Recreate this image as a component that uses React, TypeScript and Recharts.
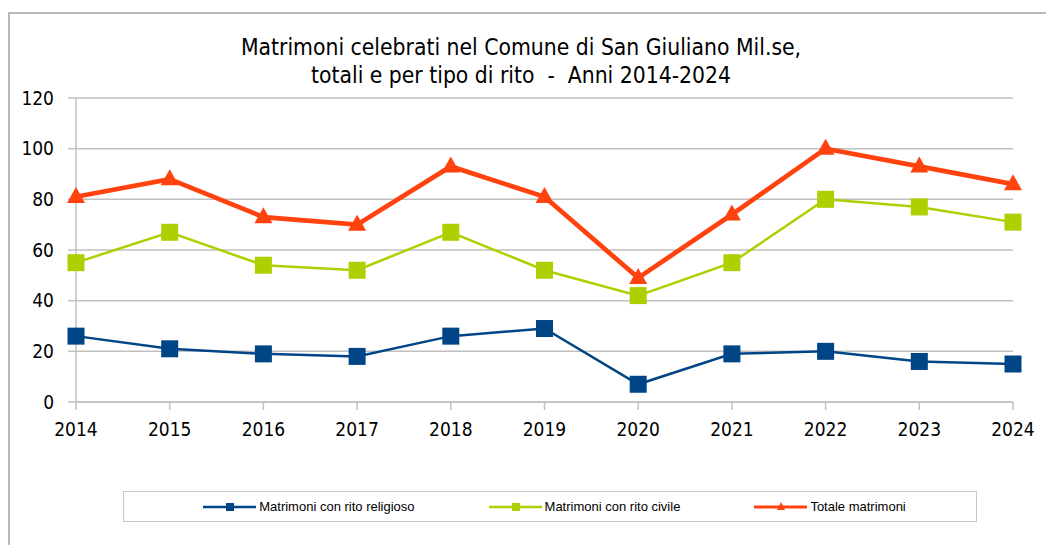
import React from "react";
import { LineChart, Line, XAxis, YAxis, CartesianGrid, Legend } from "recharts";

const years = ["2014", "2015", "2016", "2017", "2018", "2019", "2020", "2021", "2022", "2023", "2024"];
const religioso = [26, 21, 19, 18, 26, 29, 7, 19, 20, 16, 15];
const civile = [55, 67, 54, 52, 67, 52, 42, 55, 80, 77, 71];
const totale = [81, 88, 73, 70, 93, 81, 49, 74, 100, 93, 86];
const yTicks = [0, 20, 40, 60, 80, 100, 120];

const seriesNames = {
  religioso: "Matrimoni con rito religioso",
  civile: "Matrimoni con rito civile",
  totale: "Totale matrimoni",
};

const data = years.map((y, i) => ({
  year: y,
  religioso: religioso[i],
  civile: civile[i],
  totale: totale[i],
}));

const BLUE = "#004586";
const GREEN = "#aecf00";
const RED = "#ff420e";
const GRID = "#c0c0c0";
const FONT = "'DejaVu Sans Condensed', 'DejaVu Sans', sans-serif";

const SquareDot = (color: string, size: number) => (props: any) => {
  const { cx, cy, index } = props;
  if (cx == null || cy == null) return <g key={index} />;
  return <rect key={index} x={cx - size / 2} y={cy - size / 2} width={size} height={size} fill={color} />;
};

const TriangleDot = (color: string, w: number, h: number) => (props: any) => {
  const { cx, cy, index } = props;
  if (cx == null || cy == null) return <g key={index} />;
  const top = cy - h * 0.62;
  const bot = cy + h * 0.38;
  return <polygon key={index} points={`${cx},${top} ${cx + w / 2},${bot} ${cx - w / 2},${bot}`} fill={color} />;
};

const legendItems = [
  { key: "religioso", color: BLUE, width: 2.5, marker: "square" },
  { key: "civile", color: GREEN, width: 2.5, marker: "square" },
  { key: "totale", color: RED, width: 3, marker: "triangle" },
];

const LegendContent = () => (
  <div
    style={{
      display: "flex",
      justifyContent: "center",
      alignItems: "center",
      gap: 74,
      height: "100%",
      paddingLeft: 9,
      boxSizing: "border-box",
      fontFamily: "'Liberation Sans', Arial, sans-serif",
      fontSize: 13,
      color: "#000",
    }}
  >
    {legendItems.map((it) => (
      <div key={it.key} style={{ display: "flex", alignItems: "center" }}>
        <svg width={53} height={12} style={{ display: "block" }}>
          <line x1={0} y1={6} x2={53} y2={6} stroke={it.color} strokeWidth={it.width} />
          {it.marker === "square" ? (
            <rect x={23} y={2} width={8} height={8} fill={it.color} />
          ) : (
            <polygon points="27,1 31,9 23,9" fill={it.color} />
          )}
        </svg>
        <span style={{ marginLeft: 3, whiteSpace: "nowrap" }}>{(seriesNames as any)[it.key]}</span>
      </div>
    ))}
  </div>
);

export default function App() {
  return (
    <div style={{ position: "absolute", left: 0, top: 0, width: 1046, height: 545, background: "#fff", overflow: "hidden" }}>
      <div
        style={{
          position: "absolute",
          left: 8,
          top: 12,
          width: 1100,
          height: 600,
          borderLeft: "2px solid #b8b8b8",
          borderTop: "2px solid #b8b8b8",
        }}
      />
      <div
        style={{
          position: "absolute",
          left: 0,
          top: 33,
          width: 1042,
          textAlign: "center",
          fontFamily: FONT,
          fontSize: 22.7,
          lineHeight: "28px",
          color: "#000",
        }}
      >
        <div>Matrimoni celebrati nel Comune di San Giuliano Mil.se,</div>
        <div>totali e per tipo di rito &nbsp;- &nbsp;Anni 2014-2024</div>
      </div>
      <div style={{ position: "absolute", left: 0, top: 0 }}>
        <LineChart width={1046} height={545} data={data} margin={{ top: 98, right: 33, bottom: 103, left: 16 }}>
          <CartesianGrid vertical={false} stroke={GRID} strokeWidth={1.5} yAxisId="left" />
          <XAxis
            dataKey="year"
            axisLine={{ stroke: GRID, strokeWidth: 1.5 }}
            tickLine={{ stroke: GRID, strokeWidth: 1.5 }}
            tickSize={8}
            tickMargin={13}
            height={40}
            interval={0}
            tick={{ fill: "#000", fontSize: 19, fontFamily: FONT }}
          />
          <YAxis
            yAxisId="left"
            domain={[0, 120]}
            ticks={yTicks}
            width={60}
            axisLine={{ stroke: GRID, strokeWidth: 1.5 }}
            tickLine={{ stroke: GRID, strokeWidth: 1.5 }}
            tickSize={8}
            tickMargin={14}
            interval={0}
            tick={{ fill: "#000", fontSize: 19, fontFamily: FONT }}
          />
          <YAxis
            yAxisId="right"
            orientation="right"
            domain={[0, 120]}
            width={0}
            tick={false}
            tickLine={false}
            axisLine={{ stroke: GRID, strokeWidth: 1.5 }}
          />
          <Legend
            layout="horizontal"
            verticalAlign="middle"
            align="center"
            content={<LegendContent />}
            wrapperStyle={{
              position: "absolute",
              left: 123,
              top: 491,
              width: 854,
              height: 31,
              border: "1.5px solid #c8c8c8",
              boxSizing: "border-box",
              background: "#fff",
            }}
          />
          <Line
            yAxisId="left"
            type="linear"
            dataKey="religioso"
            name={seriesNames.religioso}
            stroke={BLUE}
            strokeWidth={2.5}
            dot={SquareDot(BLUE, 17)}
            activeDot={false}
            isAnimationActive={false}
          />
          <Line
            yAxisId="left"
            type="linear"
            dataKey="civile"
            name={seriesNames.civile}
            stroke={GREEN}
            strokeWidth={2.5}
            dot={SquareDot(GREEN, 17)}
            activeDot={false}
            isAnimationActive={false}
          />
          <Line
            yAxisId="left"
            type="linear"
            dataKey="totale"
            name={seriesNames.totale}
            stroke={RED}
            strokeWidth={4.7}
            dot={TriangleDot(RED, 18, 16)}
            activeDot={false}
            isAnimationActive={false}
          />
        </LineChart>
      </div>
    </div>
  );
}
